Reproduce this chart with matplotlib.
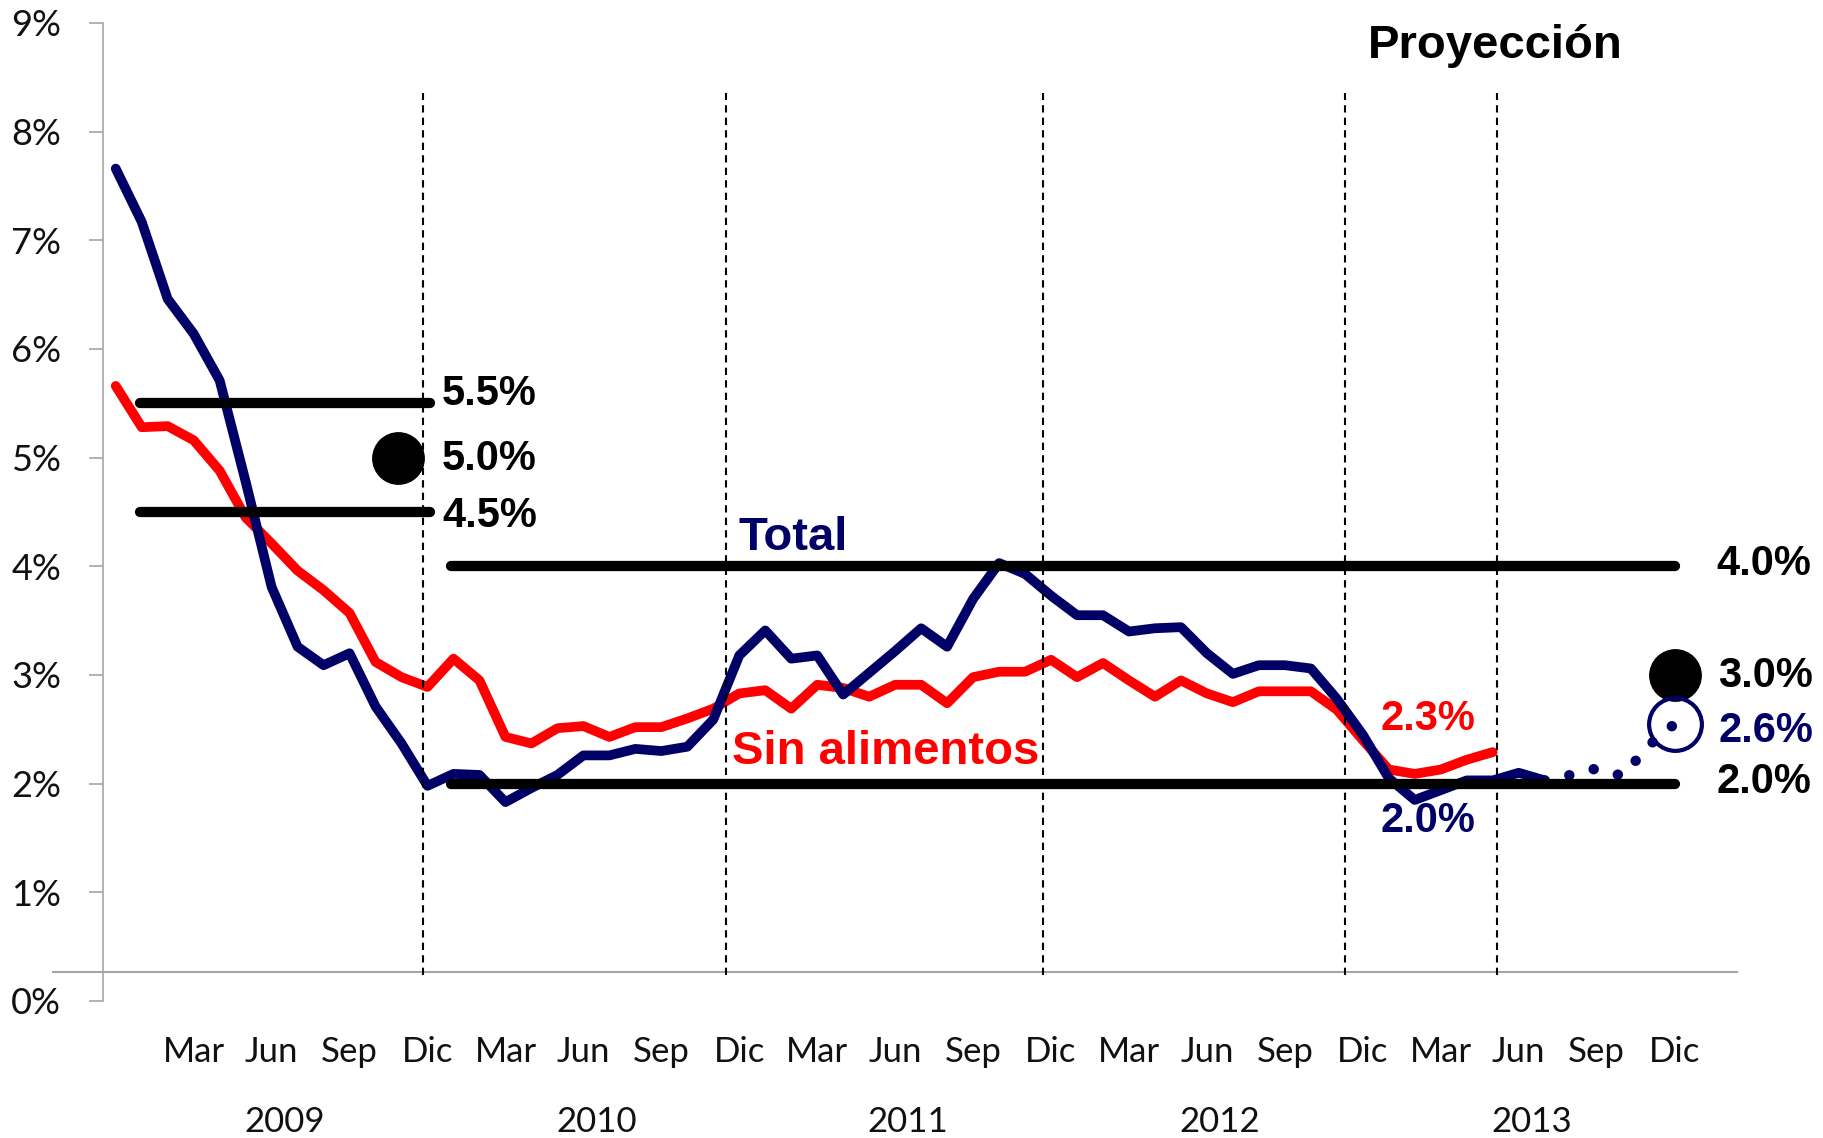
"""Inflación anual: IPC total y sin alimentos, con rangos meta y proyección 2013."""

import matplotlib.pyplot as plt
import numpy as np

# Monthly series, first point = Dic 2008 (month index -1), Ene 2009 = 0
total = [7.66, 7.17, 6.46, 6.14, 5.71, 4.78, 3.81, 3.26, 3.09, 3.20, 2.71, 2.37,
         1.98, 2.09, 2.08, 1.83, 1.96, 2.08, 2.26, 2.26, 2.32, 2.30, 2.34, 2.59,
         3.18, 3.41, 3.15, 3.18, 2.82, 3.02, 3.22, 3.43, 3.26, 3.70, 4.03, 3.93,
         3.73, 3.55, 3.55, 3.40, 3.43, 3.44, 3.20, 3.01, 3.09, 3.09, 3.06, 2.78,
         2.45, 2.05, 1.85, 1.94, 2.03, 2.03, 2.10, 2.03]
sin_alimentos = [5.66, 5.28, 5.29, 5.16, 4.88, 4.45, 4.21, 3.96, 3.78, 3.57, 3.12, 2.98,
                 2.89, 3.15, 2.95, 2.43, 2.37, 2.51, 2.53, 2.43, 2.52, 2.52, 2.60, 2.69,
                 2.83, 2.86, 2.69, 2.91, 2.88, 2.80, 2.91, 2.91, 2.74, 2.98, 3.03, 3.03,
                 3.14, 2.98, 3.11, 2.95, 2.80, 2.95, 2.83, 2.75, 2.85, 2.85, 2.85, 2.68,
                 2.40, 2.13, 2.09, 2.13, 2.22, 2.29]
proyeccion = [2.03, 2.08, 2.14, 2.07, 2.35, 2.55]   # Jul 2013 .. Dic 2013
first_month = -1
proj_start = 54

# Target ranges (low, high, point) and the months they span
rango_2009 = (4.5, 5.5, 5.0)
rango_2009_span = (-0.07, 11.1)
punto_2009_x = 9.85
rango_meta = (2.0, 4.0, 3.0)
rango_meta_span = (11.9, 59.0)
punto_meta_x = 59

# Axis labels
month_ticks = [2, 5, 8, 11]
month_labels = ["Mar", "Jun", "Sep", "Dic"]
years = ["2009", "2010", "2011", "2012", "2013"]
separators = [10.82, 22.48, 34.69, 46.33, 52.17]

NAVY = "#000066"
RED = "#FF0000"
GRAY = "#A6A6A6"
LABEL = "#111111"

plt.rcParams["font.family"] = ["Lato", "DejaVu Sans"]
BOLD = dict(family=["Liberation Sans", "DejaVu Sans"], fontweight="bold")

fig = plt.figure(figsize=(18.23, 11.38), dpi=100)
ax = fig.add_axes([0.0565, 0.1204, 0.8963, 0.8594])
ax.set_xlim(-1.49, 61.4)
ax.set_ylim(0, 9)

# Series
x_total = np.arange(first_month, first_month + len(total))
x_sin = np.arange(first_month, first_month + len(sin_alimentos))
x_proj = np.arange(proj_start, proj_start + len(proyeccion))
line_kw = dict(lw=7, solid_capstyle="round", solid_joinstyle="round")
ax.plot(x_sin, sin_alimentos, color=RED, zorder=3, **line_kw)
ax.plot(x_total, total, color=NAVY, zorder=4, **line_kw)
ax.plot(x_proj, proyeccion, color=NAVY, lw=7.5, linestyle=(0, (0.01, 2.4)),
        dash_capstyle="round", zorder=4)

# Target ranges
band_kw = dict(color="black", lw=7.4, solid_capstyle="round", zorder=5)
for lvl in rango_2009[:2]:
    ax.plot(rango_2009_span, [lvl, lvl], **band_kw)
for lvl in rango_meta[:2]:
    ax.plot(rango_meta_span, [lvl, lvl], **band_kw)
ax.plot(punto_2009_x, rango_2009[2], "o", color="black", ms=37, zorder=6)
ax.plot(punto_meta_x, rango_meta[2], "o", color="black", ms=37, zorder=6)
ax.plot(punto_meta_x, proyeccion[-1], "o", mfc="none", mec=NAVY, mew=3, ms=38, zorder=6)

# Year separators
for sx in separators:
    ax.plot([sx, sx], [0.24, 8.36], color="black", lw=1.5,
            linestyle=(0, (3.5, 2.5)), zorder=7)

# Gray category axis line
ax.plot([-3.42, 61.4], [0.27, 0.27], color=GRAY, lw=1.5, clip_on=False, zorder=2)

# Labels
txt = dict(va="baseline", ha="left", fontsize=30, **BOLD)
ax.text(11.56, 5.48, f"{rango_2009[1]:.1f}%", color="black", **txt)
ax.text(11.56, 4.885, f"{rango_2009[2]:.1f}%", color="black", **txt)
ax.text(11.56, 4.36, f"{rango_2009[0]:.1f}%", color="black", **txt)
ax.text(60.6, 3.92, f"{rango_meta[1]:.1f}%", color="black", **txt)
ax.text(60.68, 2.89, f"{rango_meta[2]:.1f}%", color="black", **txt)
ax.text(60.68, 2.385, "2.6%", color=NAVY, **txt)
ax.text(60.6, 1.91, f"{rango_meta[0]:.1f}%", color="black", **txt)
ax.text(47.68, 2.49, f"{sin_alimentos[-1]:.1f}%", color=RED, **txt)
ax.text(47.68, 1.557, "2.0%", color=NAVY, **txt)
ax.text(22.96, 4.15, "Total", color=NAVY, va="baseline", ha="left", fontsize=34, **BOLD)
ax.text(22.72, 2.18, "Sin alimentos", color=RED, va="baseline", ha="left",
        fontsize=34, **BOLD)
ax.text(47.18, 8.675, "Proyección", color="black", va="baseline", ha="left",
        fontsize=34, **BOLD)

# Axes styling
for side in ("top", "right", "bottom"):
    ax.spines[side].set_visible(False)
ax.spines["left"].set_color(GRAY)
ax.spines["left"].set_linewidth(1.2)
ax.set_yticks(range(10))
ax.set_yticklabels([f"{v}%" for v in range(10)])
ax.tick_params(axis="y", length=10, width=1.2, color=GRAY, pad=20,
               labelsize=26, labelcolor=LABEL)

ax.set_xticks([])
xt = ax.get_xaxis_transform()
for k, year in enumerate(years):
    for m, lab in zip(month_ticks, month_labels):
        ax.text(12 * k + m, -0.062, lab, transform=xt, ha="center",
                va="baseline", fontsize=25, color=LABEL)
    ax.text(12 * k + 5.5, -0.1336, year, transform=xt, ha="center",
            va="baseline", fontsize=25, color=LABEL)

fig.savefig("out.png", dpi=100)
